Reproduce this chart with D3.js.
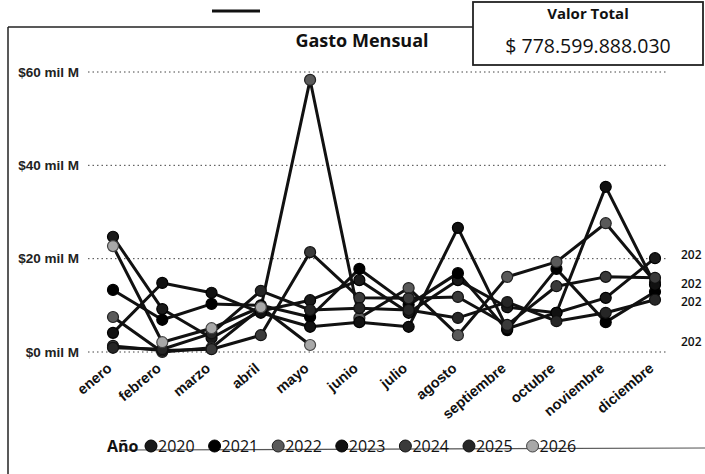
<!DOCTYPE html>
<html><head><meta charset="utf-8">
<script src="https://cdn.jsdelivr.net/npm/d3@7/dist/d3.min.js"></script>
<style>
body{margin:0;background:#fff;}
svg{display:block;font-family:"Open Sans","Noto Sans",sans-serif;}
</style></head><body>
<svg id="c" width="705" height="474"></svg>
<script>
const months = ["enero","febrero","marzo","abril","mayo","junio","julio","agosto","septiembre","octubre","noviembre","diciembre"];
const years = ["2020","2021","2022","2023","2024","2025","2026"];
const v2020 = [24.7, 9.2, 3.0, 8.8, 11.1, 15.4, 8.4, 15.4, 9.6, 8.4, 11.6, 20.1];
const v2021 = [13.3, 6.9, 10.3, 10.0, 7.5, 17.8, 10.1, 16.9, 4.7, 17.8, 6.4, 12.9];
const v2022 = [7.5, 0.0, 0.9, 9.4, 58.3, 7.3, 13.7, 3.6, 16.1, 19.3, 27.6, 15.0];
const v2023 = [4.1, 14.8, 12.7, 8.4, 5.4, 6.4, 5.4, 26.6, 5.0, 8.4, 35.4, 14.4];
const v2024 = [1.3, 0.3, 0.6, 3.6, 21.4, 11.6, 11.5, 11.8, 5.8, 14.1, 16.1, 15.9];
const v2025 = [0.9, 0.6, 4.0, 13.1, 9.0, 9.4, 9.0, 7.3, 10.7, 6.6, 8.4, 11.2];
const v2026 = [22.7, 2.1, 5.1, 9.6, 1.5];
const seriesValues = [v2020, v2021, v2022, v2023, v2024, v2025, v2026];
const yTicks = [0, 20, 40, 60];
const endLabels = ["202","202","202","202"];
const endLabelValues = [20.8, 14.6, 10.7, 2.2];
const totalText = "$ 778.599.888.030";

const svg = d3.select("#c");
const markFill = ["#1a1a1a","#000","#5a5a5a","#111","#3a3a3a","#262626","#a8a8a8"];
const markStroke = ["#000","#000","#222","#000","#111","#111","#444"];

const x = d3.scalePoint().domain(months).range([113, 655]);
const y = d3.scaleLinear().domain([0, 60]).range([352, 72]);

// frame
svg.append("line").attr("x1",8).attr("x2",8).attr("y1",27).attr("y2",474).attr("stroke","#222").attr("stroke-width",1.5);
svg.append("line").attr("x1",8).attr("x2",474).attr("y1",27).attr("y2",27).attr("stroke","#222").attr("stroke-width",1.5);
svg.append("line").attr("x1",120).attr("x2",705).attr("y1",450).attr("y2",448).attr("stroke","#555").attr("stroke-width",1.2);
svg.append("line").attr("x1",212).attr("x2",260).attr("y1",11).attr("y2",11).attr("stroke","#111").attr("stroke-width",3);

// grid
svg.append("g").selectAll("line").data(yTicks).join("line")
  .attr("x1",88).attr("x2",668).attr("y1",d=>y(d)).attr("y2",d=>y(d))
  .attr("stroke","#444").attr("stroke-width",1).attr("stroke-dasharray","1.5,3");

// y axis
const ya = svg.append("g").attr("transform","translate(82,0)")
  .call(d3.axisLeft(y).tickValues(yTicks).tickSize(0).tickFormat(d=>"$"+d+" mil M"));
ya.select(".domain").remove();
ya.selectAll("text").attr("font-size",13.5).attr("font-weight",600).attr("fill","#222").attr("dx",0);

// x axis
const xa = svg.append("g").attr("transform","translate(0,356)")
  .call(d3.axisBottom(x).tickSize(0));
xa.select(".domain").remove();
xa.selectAll("text").attr("font-size",14.5).attr("font-weight",600).attr("fill","#111")
  .attr("y",0).attr("dy","0.35em")
  .attr("text-anchor","end").attr("transform","translate(-4,10) rotate(-40)");

// lines
const line = d3.line().x((d,i)=>x(months[i])).y(d=>y(d));
const g = svg.append("g");
seriesValues.forEach((vals,k)=>{
  g.append("path").attr("d",line(vals)).attr("fill","none").attr("stroke","#111").attr("stroke-width",3).attr("stroke-linejoin","round");
});
seriesValues.forEach((vals,k)=>{
  g.selectAll(null).data(vals).join("circle")
    .attr("cx",(d,i)=>x(months[i])).attr("cy",d=>y(d)).attr("r",5.5)
    .attr("fill",markFill[k]).attr("stroke",markStroke[k]).attr("stroke-width",1.2);
});

// end labels
svg.append("g").selectAll("text").data(endLabelValues).join("text")
  .attr("x",681).attr("y",d=>y(d)).attr("dy","0.35em")
  .attr("font-size",12).attr("font-weight",600).attr("fill","#111")
  .text((d,i)=>endLabels[i]);

// title
svg.append("text").attr("x",362).attr("y",47).attr("text-anchor","middle")
  .attr("font-size",18).attr("font-weight",700).attr("fill","#111").text("Gasto Mensual");

// value box
svg.append("rect").attr("x",473).attr("y",2).attr("width",230).attr("height",63)
  .attr("fill","#fff").attr("stroke","#222").attr("stroke-width",1.8);
svg.append("text").attr("x",588).attr("y",19).attr("text-anchor","middle")
  .attr("font-size",15).attr("font-weight",700).attr("fill","#111").text("Valor Total");
svg.append("text").attr("x",588).attr("y",53).attr("text-anchor","middle")
  .attr("font-size",19.5).attr("font-weight",500).attr("fill","#111").text(totalText);

// legend
const lg = svg.append("g").attr("transform","translate(107,446)");
lg.append("text").attr("x",0).attr("y",0).attr("dy","0.35em").attr("font-size",16).attr("font-weight",700).attr("fill","#111").text("Año");
let lx = 38;
years.forEach((yr,k)=>{
  lg.append("circle").attr("cx",lx+6).attr("cy",0).attr("r",6).attr("fill",markFill[k]).attr("stroke",markStroke[k]).attr("stroke-width",1);
  const t = lg.append("text").attr("x",lx+13).attr("y",0).attr("dy","0.35em").attr("font-size",16).attr("font-weight",500).attr("fill","#111").text(yr);
  lx += 13 + t.node().getComputedTextLength() + 14;
});
</script>
</body></html>
